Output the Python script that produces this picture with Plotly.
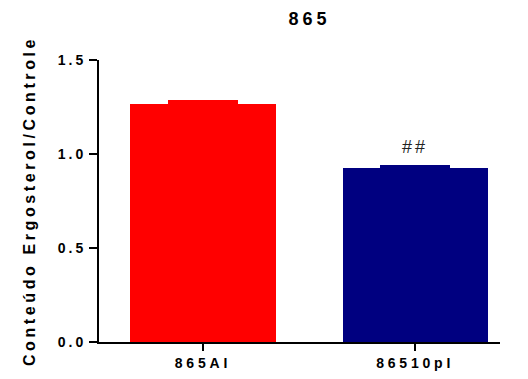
import plotly.graph_objects as go

categories = ["865AI", "86510pI"]
values = [1.268, 0.926]
errors = [0.009, 0.009]
colors = ["#FF0000", "#000080"]
y_ticks = [0.0, 0.5, 1.0, 1.5]
y_tick_labels = ["0.0", "0.5", "1.0", "1.5"]
sig_labels = ["", "##"]

def spaced(t, s=2):
    return f'<span style="letter-spacing:{s}px">{t}</span>'

fig = go.Figure()
for i in range(len(categories)):
    fig.add_trace(go.Bar(
        x=[i], y=[values[i]], width=0.684,
        marker=dict(color=colors[i], line=dict(width=0)),
        error_y=dict(type="data", array=[errors[i]], arrayminus=[0], symmetric=False,
                     color=colors[i], thickness=3, width=35),
        showlegend=False,
    ))

for i, lab in enumerate(sig_labels):
    if lab:
        fig.add_annotation(x=i, y=values[i] + 0.11, text=spaced(lab, 3), showarrow=False,
                           yanchor="middle", font=dict(size=18, color="#222", family="Liberation Sans"))

fig.update_layout(
    width=520, height=371,
    margin=dict(l=91, r=28, t=52, b=37, autoexpand=False),
    plot_bgcolor="white", paper_bgcolor="white",
    font=dict(family="Liberation Sans", color="black"),
    title=dict(text=spaced("<b>865</b>", 4), x=0.58, xanchor="center", y=0.970, yanchor="middle",
               font=dict(size=18, family="Liberation Sans", color="black")),
    bargap=0,
    xaxis=dict(range=[-0.49, 1.40], tickvals=[0, 1], automargin=False,
               ticktext=[spaced(f"<b>{c}</b>", 3.8) for c in categories],
               showline=True, linewidth=2, linecolor="black", ticks="outside",
               ticklen=7, tickwidth=2, tickcolor="black", showgrid=False, zeroline=False,
               tickfont=dict(size=14, family="Liberation Sans", color="black")),
    yaxis=dict(range=[0, 1.5], tickvals=y_ticks, automargin=False,
               ticktext=[spaced(f"<b>{t}</b>", 3) for t in y_tick_labels],
               showline=True, linewidth=2, linecolor="black", ticks="outside",
               ticklen=8, tickwidth=2, tickcolor="black", showgrid=False, zeroline=False,
               tickfont=dict(size=14, family="Liberation Sans", color="black"),
               title=dict(text=spaced("<b>Conteúdo Ergosterol/Controle</b>", 3.6), standoff=18,
                          font=dict(size=16, family="Liberation Sans", color="black"))),
)

fig.write_html("out.html")
